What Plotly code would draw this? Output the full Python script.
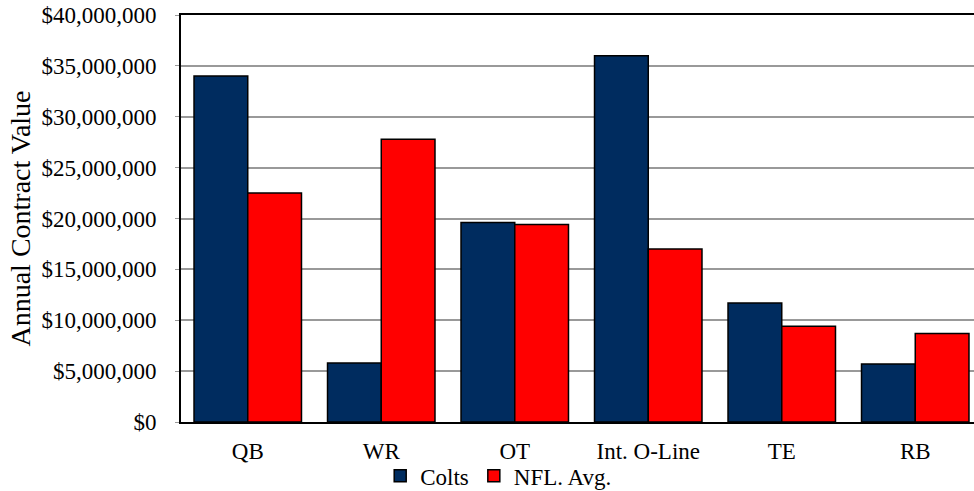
import plotly.graph_objects as go

categories = ["QB", "WR", "OT", "Int. O-Line", "TE", "RB"]
colts = [34000000, 5800000, 19600000, 36000000, 11700000, 5700000]
nfl_avg = [22500000, 27800000, 19400000, 17000000, 9400000, 8700000]
y_ticks = [0, 5000000, 10000000, 15000000, 20000000, 25000000, 30000000, 35000000, 40000000]

FONT = "Liberation Serif, Times New Roman, serif"

fig = go.Figure()
fig.add_trace(go.Bar(x=categories, y=colts, name="Colts",
                     marker=dict(color="#002C5F", line=dict(color="#000000", width=1.5))))
fig.add_trace(go.Bar(x=categories, y=nfl_avg, name="NFL. Avg.",
                     marker=dict(color="#FF0000", line=dict(color="#000000", width=1.5))))

fig.update_layout(
    width=974, height=491,
    margin=dict(l=181, r=0, t=15, b=69, autoexpand=False),
    paper_bgcolor="white", plot_bgcolor="white",
    font=dict(family=FONT, size=23, color="#000000"),
    separators=".,",
    barmode="group", bargap=0.195, bargroupgap=0,
    showlegend=True,
    legend=dict(orientation="h", x=0.4, xanchor="center",
                yref="container", y=0.031, yanchor="middle",
                font=dict(family=FONT, size=23), itemwidth=30, tracegroupgap=0,
                bgcolor="rgba(0,0,0,0)"),
)
fig.update_xaxes(
    range=[-0.5, 5.44], showline=True, linecolor="#000000", linewidth=2, mirror=True,
    showgrid=False, ticks="", ticklabelstandoff=7,
    tickfont=dict(family=FONT, size=23),
)
fig.update_yaxes(
    range=[0, 40000000], tickvals=y_ticks, tickformat="$,.0f",
    showline=True, linecolor="#000000", linewidth=2,
    showgrid=True, gridcolor="#999999", gridwidth=2,
    ticks="outside", ticklen=4, tickcolor="#999999", ticklabelstandoff=14,
    zeroline=False,
    title=dict(text="Annual Contract Value", standoff=3, font=dict(family=FONT, size=28)),
    tickfont=dict(family=FONT, size=23),
)

fig.write_html("out.html")
